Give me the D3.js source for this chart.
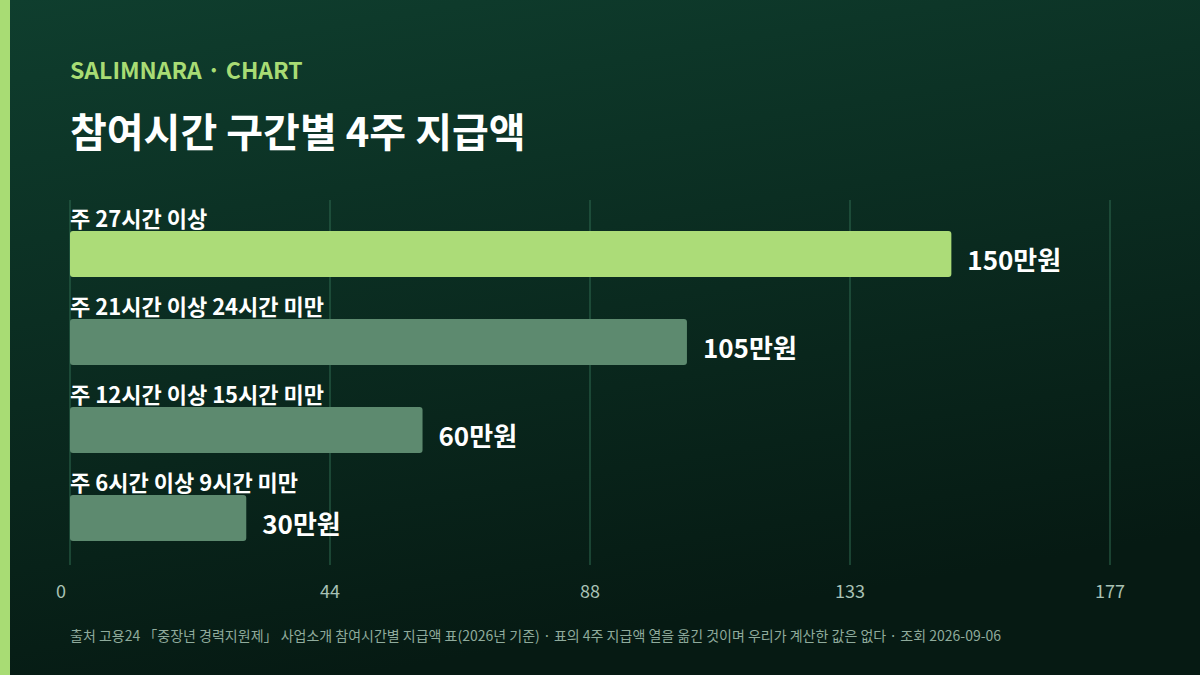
<!DOCTYPE html>
<html><head><meta charset="utf-8">
<script src="https://cdn.jsdelivr.net/npm/d3@7"></script>
<style>html,body{margin:0;padding:0;background:#0a2a1f}svg{display:block}</style>
</head><body>
<script>
const categories = ["주 27시간 이상","주 21시간 이상 24시간 미만","주 12시간 이상 15시간 미만","주 6시간 이상 9시간 미만"];
const values = [150,105,60,30];
const tickValues = [0,44.25,88.5,132.75,177];
const tickLabels = ["0","44","88","133","177"];
const W=1200,H=675;
const font="'Noto Sans CJK KR','Noto Sans',sans-serif";
const svg=d3.select("body").append("svg").attr("width",W).attr("height",H);
const defs=svg.append("defs");
const g=defs.append("linearGradient").attr("id","bg").attr("x1","0").attr("y1","0").attr("x2","0.3").attr("y2","1");
g.append("stop").attr("offset","0").attr("stop-color","#0f3e2e");
g.append("stop").attr("offset","1").attr("stop-color","#061a13");
svg.append("rect").attr("width",W).attr("height",H).attr("fill","url(#bg)");
svg.append("rect").attr("width",10).attr("height",H).attr("fill","#a8dc74");
svg.append("text").attr("x",70).attr("y",79).attr("fill","#a8dc74").attr("font-family",font).attr("font-weight",700).attr("font-size",23).text("SALIMNARA · CHART");
svg.append("text").attr("x",70).attr("y",147).attr("fill","#ffffff").attr("font-family",font).attr("font-weight",700).attr("font-size",40).text("참여시간 구간별 4주 지급액");
const x=d3.scaleLinear().domain([0,177]).range([70,1110]);
const y=d3.scaleBand().domain(categories).range([210,562]).paddingInner(0).paddingOuter(0);
svg.append("g").selectAll("line").data(tickValues).join("line")
 .attr("x1",d=>x(d)).attr("x2",d=>x(d)).attr("y1",200).attr("y2",565)
 .attr("stroke","#2f6b50").attr("stroke-width",1);
svg.append("g").selectAll("text").data(tickValues).join("text")
 .attr("x",(d,i)=>i==0?x(d)-9:x(d)).attr("y",598).attr("text-anchor","middle")
 .attr("fill","#a9c2b5").attr("font-family",font).attr("font-size",18).text((d,i)=>tickLabels[i]);
const rows=svg.append("g").selectAll("g").data(categories).join("g");
rows.append("rect").attr("x",x(0)).attr("y",d=>y(d)+21).attr("height",46).attr("rx",3)
 .attr("width",(d,i)=>x(values[i])-x(0)).attr("fill",(d,i)=>i==0?"#acdc78":"#5d8a6f");
rows.append("text").attr("x",70).attr("y",d=>y(d)+17).attr("fill","#fff").attr("font-family",font)
 .attr("font-weight",700).attr("font-size",22).text(d=>d);
rows.append("text").attr("x",(d,i)=>x(values[i])+16).attr("y",d=>y(d)+60).attr("fill","#fff")
 .attr("font-family",font).attr("font-weight",700).attr("font-size",26).text((d,i)=>values[i]+"만원");
svg.append("text").attr("x",70).attr("y",641).attr("fill","#8fab9c").attr("font-family",font).attr("font-size",14)
 .text("출처 고용24 「중장년 경력지원제」 사업소개 참여시간별 지급액 표(2026년 기준) · 표의 4주 지급액 열을 옮긴 것이며 우리가 계산한 값은 없다 · 조회 2026-09-06");
</script>
</body></html>
